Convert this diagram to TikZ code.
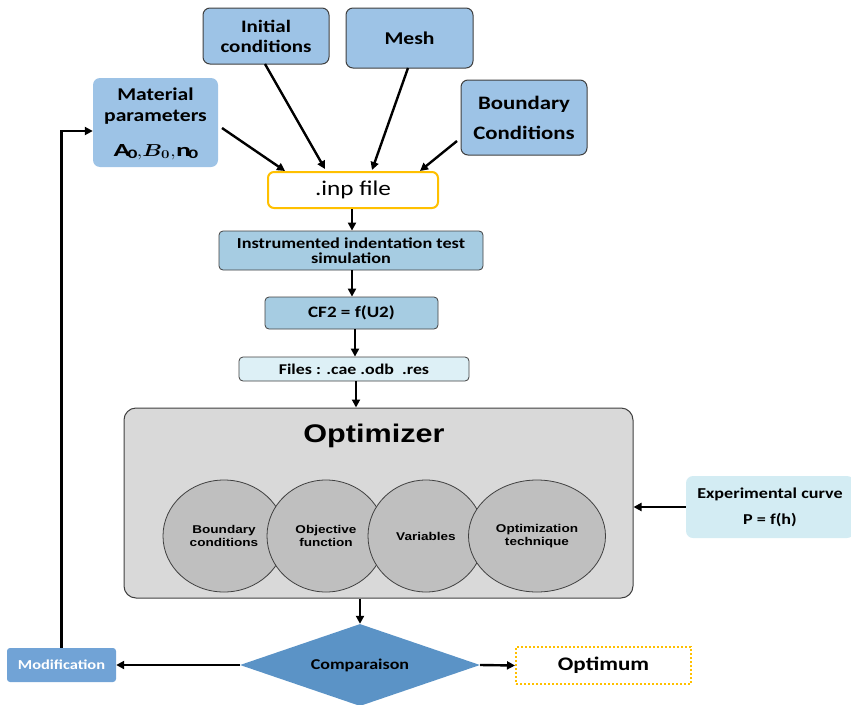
\documentclass[tikz,border=0pt]{standalone}
\usepackage{fontspec}
\setmainfont{Carlito}[FakeStretch=1.2]
\newfontfamily\arialf{Liberation Sans}[FakeStretch=1.2]
\usepackage{amsmath,bm,graphicx}
\usetikzlibrary{shapes.geometric,arrows.meta}
\definecolor{topblue}{HTML}{9DC3E6}
\definecolor{instblue}{HTML}{A6CCE2}
\definecolor{filesblue}{HTML}{DDF0F6}
\definecolor{optgray}{HTML}{D9D9D9}
\definecolor{ellgray}{HTML}{BFBFBF}
\definecolor{expcyan}{HTML}{D3ECF3}
\definecolor{diablue}{HTML}{5B93C6}
\definecolor{modblue}{HTML}{71A3D6}
\definecolor{orng}{HTML}{FFC000}
\definecolor{edge}{HTML}{404040}
\tikzset{
  topbox/.style={draw=edge, line width=1pt, fill=topblue, rounded corners=7pt, align=center, inner sep=0pt},
  flowbox/.style={draw=edge, line width=0.8pt, rounded corners=4pt, align=center, inner sep=0pt},
  ell/.style={ellipse, draw=edge, line width=0.8pt, fill=ellgray, align=center, inner sep=0pt, font=\arialf\fontsize{11.3}{13}\selectfont\bfseries},
  arr/.style={-{Triangle[length=8pt,width=8pt]}, line width=2.4pt, black},
}
\begin{document}
\begin{tikzpicture}[x=1pt,y=-1pt]
\useasboundingbox (0,0) rectangle (851,704);
% top boxes
\node[topbox, minimum width=126pt, minimum height=56pt, font=\fontsize{17.5}{20}\selectfont\bfseries] (init) at (266,36) {Initial\\conditions};
\node[topbox, minimum width=127pt, minimum height=60pt, font=\fontsize{18}{20}\selectfont\bfseries] (mesh) at (409.5,38) {Mesh};
\node[topbox, minimum width=126pt, minimum height=75pt, font=\fontsize{19}{30}\selectfont\bfseries] (bound) at (524,117.5) {Boundary\\Conditions};
\node[draw=none, fill=topblue, rounded corners=7pt, minimum width=125pt, minimum height=89pt, inner sep=0pt] (mat) at (155.5,122.5) {};
\node[align=center, inner sep=0pt, font=\fontsize{18}{21}\selectfont\bfseries] (matl) at (155.5,106) {Material\\parameters};
\node[inner sep=0pt, font=\fontsize{18.5}{20}\selectfont] (matm) at (155.5,152) {\scalebox{1.25}[1]{$\mathbf{A_0}{,}\bm{B_0}{,}\mathbf{n_0}$}};
% inp file
\node[draw=orng, line width=2pt, fill=white, rounded corners=6pt, minimum width=170pt, minimum height=36pt, inner sep=0pt, font=\fontsize{21}{24}\selectfont] (inp) at (353,190) {.inp file};
% flow
\node[flowbox, fill=instblue, minimum width=264pt, minimum height=39pt, font=\fontsize{15.2}{15}\selectfont\bfseries] (inst) at (351,250.5) {Instrumented indentation test\\simulation};
\node[flowbox, fill=instblue, minimum width=173pt, minimum height=32pt, font=\fontsize{15.9}{18}\selectfont\bfseries] (cf) at (351.5,313) {CF2 = f(U2)};
\node[flowbox, fill=filesblue, minimum width=230pt, minimum height=24pt, font=\fontsize{14.9}{16}\selectfont\bfseries] (files) at (354,369) {Files : .cae .odb\ \ .res};
% optimizer
\node[draw=edge, line width=1pt, fill=optgray, rounded corners=12pt, minimum width=509pt, minimum height=190pt, inner sep=0pt] (opt) at (378.5,503) {};
\node[font=\arialf\fontsize{25.5}{30}\selectfont\bfseries] (optt) at (374,436) {Optimizer};
\node[ell, minimum width=122pt, minimum height=112pt] (e1) at (224,536) {Boundary\\conditions};
\node[ell, minimum width=118pt, minimum height=112pt] (e2) at (326,536) {Objective\\function};
\node[ell, minimum width=116pt, minimum height=112pt] (e3) at (426,536) {Variables};
\node[ell, minimum width=137pt, minimum height=112pt] (e4) at (537,536) {Optimization\\technique};
% experimental
\node[fill=expcyan, rounded corners=7pt, minimum width=168pt, minimum height=62pt, inner sep=0pt, align=center, font=\fontsize{15.1}{26}\selectfont\bfseries] (exp) at (770,507) {Experimental curve\\P = f(h)};
% comparison
\node[diamond, fill=diablue, draw=none, minimum width=240pt, minimum height=82pt, aspect=2.9, inner sep=0pt, font=\fontsize{15}{17}\selectfont\bfseries] (cmp) at (360,665) {Comparaison};
\node[fill=modblue, rounded corners=3pt, minimum width=109pt, minimum height=34pt, inner sep=0pt, text=white, font=\fontsize{13.7}{16}\selectfont\bfseries] (mod) at (61.5,665) {Modification};
\node[draw=orng, line width=2pt, dotted, fill=white, minimum width=175pt, minimum height=37pt, inner sep=0pt, font=\fontsize{19.2}{22}\selectfont\bfseries] (optm) at (603.5,665.5) {Optimum};
% connectors
\coordinate (c1) at (222,128);
\coordinate (c2) at (265,64);
\coordinate (c3) at (408,68);
\coordinate (c4) at (457,141);
\draw[arr] (c1) -- (285,171);
\draw[arr] (c2) -- (325,169);
\draw[arr] (c3) -- (372,170);
\draw[arr] (c4) -- (420,171);
\draw[arr] (inp.south -| 352,0) -- (inst.north -| 352,0);
\draw[arr] (inst.south -| 352,0) -- (cf.north -| 352,0);
\draw[arr] (cf.south -| 355,0) -- (files.north -| 355,0);
\draw[arr] (files.south -| 356,0) -- (opt.north -| 356,0);
\draw[arr] (opt.south -| 360,0) -- (cmp.north);
\draw[arr] (exp.west) -- (exp.west -| opt.east);
\draw[arr] (cmp.west) -- (mod.east);
\draw[arr] (cmp.east) -- (optm.west);
\draw[arr] (mod.north) |- ([yshift=-8.5pt]mat.west);
\end{tikzpicture}
\end{document}
